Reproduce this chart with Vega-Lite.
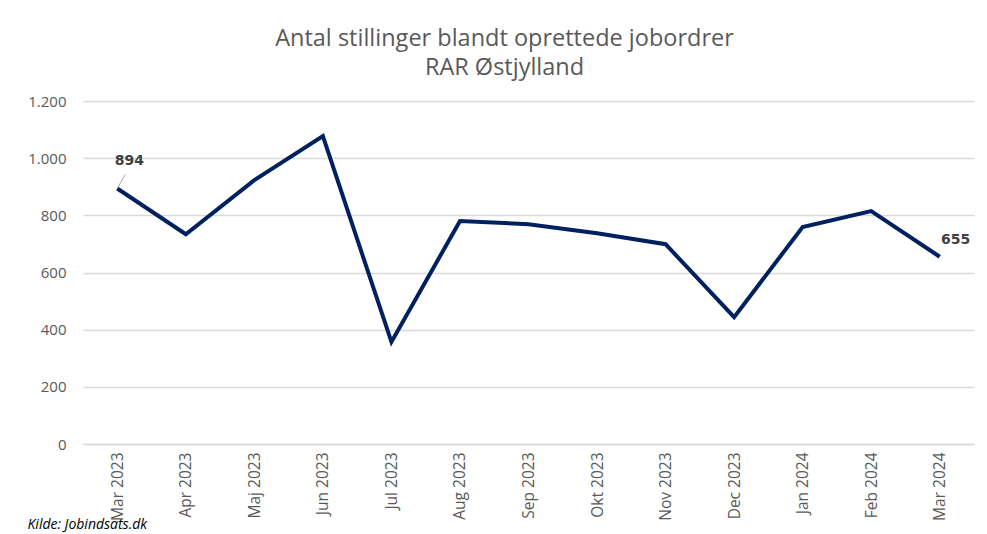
{
  "$schema": "https://vega.github.io/schema/vega-lite/v6.json",
  "width": 891,
  "height": 343,
  "autosize": "none",
  "padding": {"left": 83, "top": 101, "right": 13, "bottom": 90},
  "background": "white",
  "config": {"view": {"stroke": null}, "font": "Open Sans"},
  "title": {
    "text": ["Antal stillinger blandt oprettede jobordrer", "RAR Østjylland"],
    "font": "Open Sans",
    "fontSize": 23.5,
    "fontWeight": "normal",
    "color": "#595959",
    "lineHeight": 29,
    "anchor": "middle",
    "dx": -24,
    "offset": 15
  },
  "data": {
    "values": [
      {"month": "Mar 2023", "value": 894},
      {"month": "Apr 2023", "value": 734},
      {"month": "Maj 2023", "value": 923},
      {"month": "Jun 2023", "value": 1077},
      {"month": "Jul 2023", "value": 357},
      {"month": "Aug 2023", "value": 780},
      {"month": "Sep 2023", "value": 769},
      {"month": "Okt 2023", "value": 737},
      {"month": "Nov 2023", "value": 699},
      {"month": "Dec 2023", "value": 444},
      {"month": "Jan 2024", "value": 759},
      {"month": "Feb 2024", "value": 815},
      {"month": "Mar 2024", "value": 655}
    ]
  },
  "encoding": {
    "x": {
      "field": "month",
      "type": "nominal",
      "sort": null,
      "scale": {"type": "point", "padding": 0.5},
      "axis": {
        "title": "Kilde: Jobindsats.dk",
        "titleFont": "Open Sans",
        "titleFontStyle": "italic",
        "titleFontWeight": "normal",
        "titleFontSize": 14,
        "titleColor": "#000000",
        "titleAnchor": "start",
        "titleAlign": "left",
        "titleBaseline": "alphabetic",
        "titleX": -56,
        "titleY": 84,
        "labelAngle": -90,
        "labelAlign": "right",
        "labelBaseline": "middle",
        "labelFont": "Open Sans",
        "labelFontSize": 15.5,
        "labelColor": "#595959",
        "labelPadding": 8,
        "ticks": false,
        "domain": true,
        "domainColor": "#d9d9d9",
        "domainWidth": 1.5,
        "grid": false
      }
    },
    "y": {
      "field": "value",
      "type": "quantitative",
      "scale": {"domain": [0, 1200]},
      "axis": {
        "title": null,
        "values": [0, 200, 400, 600, 800, 1000, 1200],
        "labelExpr": "replace(format(datum.value, ',d'), ',', '.')",
        "labelFont": "Open Sans",
        "labelFontSize": 15,
        "labelColor": "#595959",
        "labelPadding": 17,
        "ticks": false,
        "domain": false,
        "grid": true,
        "gridColor": "#d9d9d9",
        "gridWidth": 1.5
      }
    }
  },
  "layer": [
    {
      "mark": {"type": "line", "color": "#002060", "strokeWidth": 4, "strokeJoin": "miter"}
    },
    {
      "transform": [{"filter": "datum.month == 'Mar 2023'"}],
      "mark": {
        "type": "point",
        "shape": "M0,0L0.57,-1",
        "size": 784,
        "filled": false,
        "stroke": "#a6a6a6",
        "strokeWidth": 1,
        "opacity": 1
      }
    },
    {
      "transform": [{"filter": "datum.month == 'Mar 2023'"}],
      "mark": {
        "type": "text",
        "font": "DejaVu Sans",
        "fontWeight": "bold",
        "fontSize": 14,
        "color": "#404040",
        "dx": 12,
        "dy": -27
      },
      "encoding": {"text": {"field": "value", "type": "quantitative"}}
    },
    {
      "transform": [{"filter": "datum.month == 'Mar 2024'"}],
      "mark": {
        "type": "text",
        "font": "DejaVu Sans",
        "fontWeight": "bold",
        "fontSize": 14,
        "color": "#404040",
        "dx": 16,
        "dy": -17
      },
      "encoding": {"text": {"field": "value", "type": "quantitative"}}
    }
  ]
}
